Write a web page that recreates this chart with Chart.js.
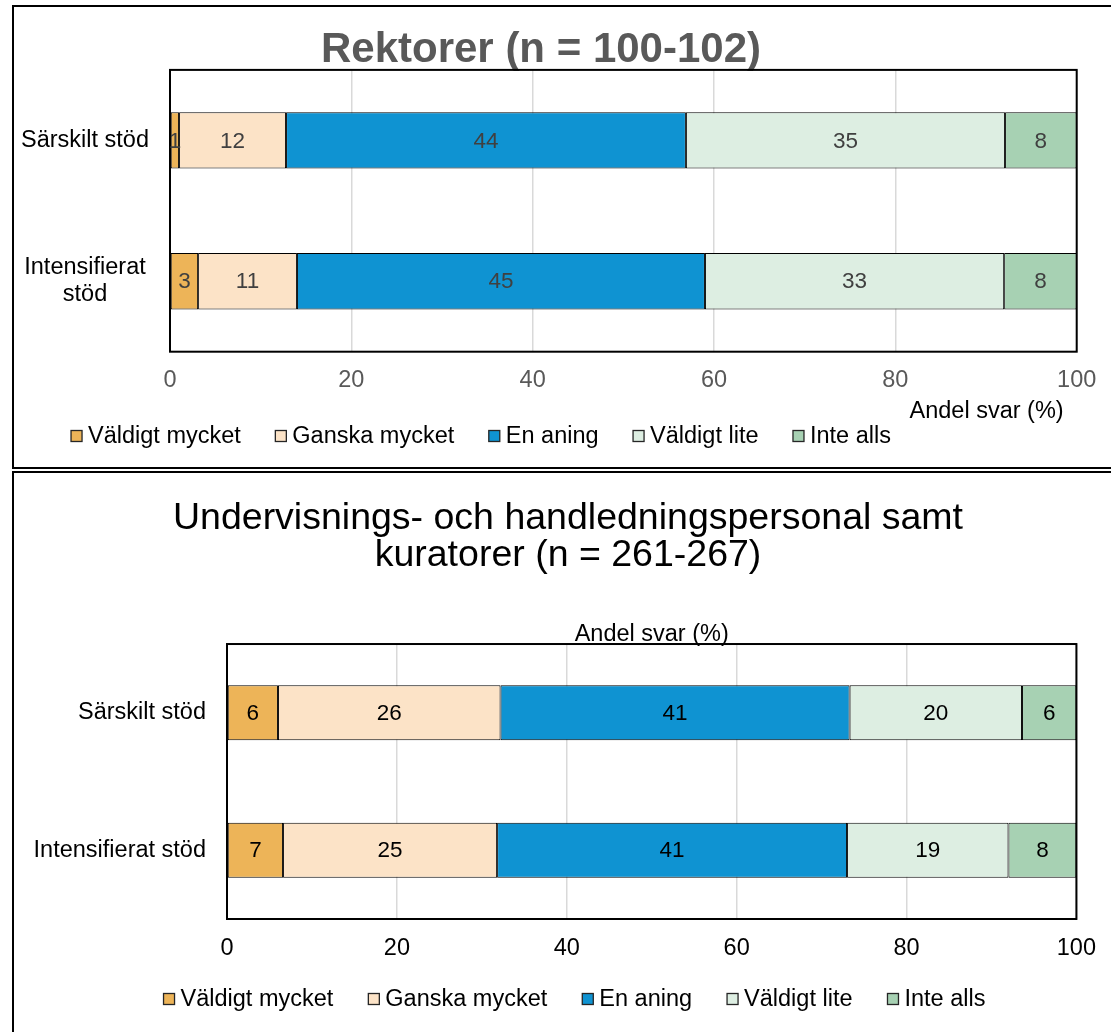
<!DOCTYPE html>
<html>
<head>
<meta charset="utf-8">
<script src="https://cdn.jsdelivr.net/npm/chart.js@4.4.1/dist/chart.umd.min.js"></script>
<style>
html,body{margin:0;padding:0;background:#fff;width:1111px;height:1032px;overflow:hidden;}
#c1{position:absolute;left:0;top:0;}
#c2{position:absolute;left:0;top:471px;}
.panel{position:absolute;border:2px solid #000;box-sizing:border-box;pointer-events:none;z-index:2;}
#p1{left:12px;top:5px;width:1200px;height:464px;}
#p2{left:12px;top:471px;width:1200px;height:700px;}
</style>
</head>
<body>
<canvas id="c1" width="1111" height="468"></canvas>
<canvas id="c2" width="1111" height="561"></canvas>
<div class="panel" id="p1"></div>
<div class="panel" id="p2"></div>
<script>
// ---------- data ----------
const categories = ['Särskilt stöd', 'Intensifierat stöd'];
const seriesNames = ['Väldigt mycket', 'Ganska mycket', 'En aning', 'Väldigt lite', 'Inte alls'];
const seriesColors = ['#EDB458', '#FCE3C7', '#0F93D2', '#DDEEE2', '#A7D1B3'];
const xTicks = [0, 20, 40, 60, 80, 100];
const axisTitle = 'Andel svar (%)';

const rektorerTitle = 'Rektorer (n = 100-102)';
const rektorerVaeldigtMycket = [1.0, 3.1];
const rektorerGanskaMycket   = [11.8, 10.9];
const rektorerEnAning        = [44.1, 45.0];
const rektorerVaeldigtLite   = [35.2, 33.0];
const rektorerInteAlls       = [7.9, 8.0];

const personalTitle = ['Undervisnings- och handledningspersonal samt', 'kuratorer (n = 261-267)'];
const personalVaeldigtMycket = [6.0, 6.6];
const personalGanskaMycket   = [26.2, 25.2];
const personalEnAning        = [41.1, 41.2];
const personalVaeldigtLite   = [20.3, 19.0];
const personalInteAlls       = [6.4, 8.0];

// ---------- helpers ----------
const FONT = "'Liberation Sans', Arial, Helvetica, sans-serif";
Chart.defaults.font.family = FONT;

function makeDatasets(values) {
  return seriesNames.map((name, i) => ({
    label: name,
    data: values[i],
    backgroundColor: seriesColors[i],
    borderColor: '#000000',
    borderWidth: 1,
    borderSkipped: false,
    categoryPercentage: 1,
    barPercentage: 0.4,
    xAxisID: 'x',
    yAxisID: 'y'
  }));
}

const plotFrame = {
  id: 'plotFrame',
  afterDatasetsDraw(chart) {
    const {ctx, chartArea: a} = chart;
    ctx.save();
    ctx.strokeStyle = '#000';
    ctx.lineWidth = 2;
    ctx.strokeRect(a.left, a.top, a.right - a.left, a.bottom - a.top);
    ctx.restore();
  }
};

// let the category labels use the free space left of the layout padding
const widenLabelArea = {
  id: 'widenLabelArea',
  afterLayout(chart) { chart.scales.y.left = 0; }
};

const barLabels = {
  id: 'barLabels',
  afterDatasetsDraw(chart, args, o) {
    const ctx = chart.ctx;
    ctx.save();
    ctx.font = o.size + 'px ' + FONT;
    ctx.fillStyle = o.color;
    ctx.textAlign = 'center';
    ctx.textBaseline = 'middle';
    chart.data.datasets.forEach((ds, di) => {
      chart.getDatasetMeta(di).data.forEach((el, i) => {
        const p = el.getProps(['x', 'y', 'base'], true);
        ctx.fillText(String(Math.round(ds.data[i])), (p.x + p.base) / 2, p.y + 1);
      });
    });
    ctx.restore();
  }
};

const boxLegend = {
  id: 'boxLegend',
  afterDraw(chart, args, o) {
    const ctx = chart.ctx;
    ctx.save();
    ctx.font = o.size + 'px ' + FONT;
    ctx.textBaseline = 'middle';
    ctx.textAlign = 'left';
    const items = chart.data.datasets.map(d => ({text: d.label, color: d.backgroundColor}));
    const widths = items.map(it => ctx.measureText(it.text).width);
    const total = widths.reduce((s, w) => s + o.box + o.gap + w, 0) + o.spacing * (items.length - 1);
    let x = o.centerX - total / 2;
    items.forEach((it, i) => {
      const by = o.y - o.box / 2;
      ctx.fillStyle = it.color;
      ctx.fillRect(x, by, o.box, o.box);
      ctx.strokeStyle = '#262626';
      ctx.lineWidth = 1.3;
      ctx.strokeRect(x, by, o.box, o.box);
      ctx.fillStyle = o.color;
      ctx.fillText(it.text, x + o.box + o.gap, o.y + 1);
      x += o.box + o.gap + widths[i] + o.spacing;
    });
    ctx.restore();
  }
};

function setTicks(scale) {
  scale.ticks = xTicks.map(v => ({value: v}));
}

// ---------- chart 1: Rektorer ----------
new Chart(document.getElementById('c1'), {
  type: 'bar',
  data: {
    labels: categories,
    datasets: makeDatasets([rektorerVaeldigtMycket, rektorerGanskaMycket, rektorerEnAning, rektorerVaeldigtLite, rektorerInteAlls])
  },
  options: {
    indexAxis: 'y',
    responsive: false,
    animation: false,
    events: [],
    layout: {padding: {left: 0, right: 29, top: 0, bottom: 0}},
    scales: {
      x: {
        type: 'linear', stacked: true, min: 0, max: 100, position: 'bottom',
        afterBuildTicks: setTicks,
        ticks: {padding: 14.7, color: '#595959', font: {size: 23.5}},
        grid: {color: '#D9D9D9', lineWidth: 1.5, drawTicks: false, tickLength: 0},
        border: {display: false},
        title: {display: true, text: axisTitle + '  ', align: 'end', color: '#000',
                font: {size: 23.5, lineHeight: 1.2}, padding: {top: 0, bottom: 41.9}},
        afterFit(s) { s.height = 116.3; }
      },
      y: {
        stacked: true,
        ticks: {
          crossAlign: 'center', padding: 21, color: '#000', font: {size: 23.5, lineHeight: 1.15},
          callback(v) { const l = categories[v]; return l.length > 14 ? l.split(/ (?=\S+$)/) : l; }
        },
        grid: {display: false, drawTicks: false},
        border: {display: false},
        afterFit(s) { s.width = 170; }
      }
    },
    plugins: {
      legend: {display: false},
      tooltip: {enabled: false},
      title: {display: true, text: rektorerTitle, color: '#595959',
              font: {size: 42, weight: 'bold', lineHeight: 0.95}, padding: {top: 30, bottom: 0}},
      barLabels: {size: 22.5, color: '#404040'},
      boxLegend: {size: 23.5, color: '#000', box: 11, gap: 6, spacing: 34.5, centerX: 481, y: 436}
    }
  },
  plugins: [plotFrame, barLabels, boxLegend]
});

// ---------- chart 2: Undervisnings- och handledningspersonal ----------
new Chart(document.getElementById('c2'), {
  type: 'bar',
  data: {
    labels: categories,
    datasets: makeDatasets([personalVaeldigtMycket, personalGanskaMycket, personalEnAning, personalVaeldigtLite, personalInteAlls])
  },
  options: {
    indexAxis: 'y',
    responsive: false,
    animation: false,
    events: [],
    layout: {padding: {left: 58, right: 33, top: 0, bottom: 0}},
    scales: {
      x: {
        type: 'linear', stacked: true, min: 0, max: 100, position: 'bottom',
        afterBuildTicks: setTicks,
        ticks: {padding: 15, color: '#000', font: {size: 23.5}},
        grid: {color: '#D9D9D9', lineWidth: 1.5, drawTicks: false, tickLength: 0},
        border: {display: false},
        afterFit(s) { s.height = 113; }
      },
      x2: {
        type: 'linear', position: 'top', min: 0, max: 100,
        ticks: {display: false},
        grid: {display: false, drawTicks: false},
        border: {display: false},
        title: {display: true, text: axisTitle, color: '#000',
                font: {size: 23.5, lineHeight: 1.2}, padding: {top: 45.4, bottom: 0}},
        afterFit(s) { s.height = 69.5; }
      },
      y: {
        stacked: true,
        ticks: {crossAlign: 'near', padding: 21, color: '#000', font: {size: 23.5}},
        grid: {display: false, drawTicks: false},
        border: {display: false},
        afterFit(s) { s.width = 169; }
      }
    },
    plugins: {
      legend: {display: false},
      tooltip: {enabled: false},
      title: {display: true, text: personalTitle, color: '#000',
              font: {size: 37.5, weight: 'normal', lineHeight: 0.987}, padding: {top: 29.5, bottom: 0}},
      barLabels: {size: 22.5, color: '#000'},
      boxLegend: {size: 23.5, color: '#000', box: 11, gap: 6, spacing: 35, centerX: 574.5, y: 528}
    }
  },
  plugins: [plotFrame, barLabels, boxLegend, widenLabelArea]
});
</script>
</body>
</html>
